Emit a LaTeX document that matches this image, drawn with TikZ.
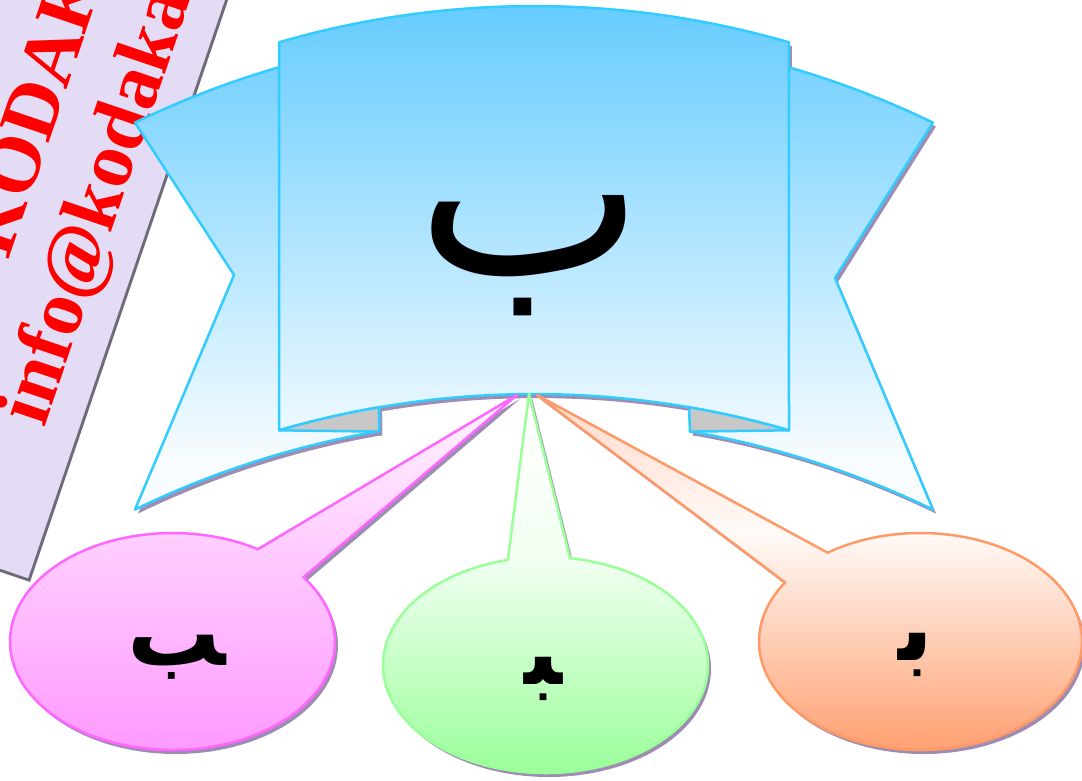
\documentclass[tikz,border=0pt]{standalone}
\usepackage{fontspec}
\newfontfamily\arabicfont[Script=Arabic]{DejaVu Sans}
\newfontfamily\wmfont{Liberation Serif}
\definecolor{bline}{HTML}{33CCFF}
\definecolor{btop}{HTML}{66CCFF}
\definecolor{bbot}{HTML}{F8FCFF}
\definecolor{shadowc}{RGB}{158,140,178}
\definecolor{foldgrey}{HTML}{C8C8C8}
\definecolor{pinkline}{HTML}{FF66FF}
\definecolor{pinkA}{HTML}{FFD0FF}
\definecolor{pinkB}{HTML}{FF99FF}
\definecolor{pinkT}{HTML}{FFF6FF}
\definecolor{greenline}{HTML}{99FF99}
\definecolor{greenA}{HTML}{F2FFF2}
\definecolor{greenB}{HTML}{99FF99}
\definecolor{orangeline}{HTML}{FF9966}
\definecolor{orangeA}{HTML}{FFFAF8}
\definecolor{orangeB}{HTML}{FF9F70}
\definecolor{orangeT}{HTML}{FFD8C8}
\definecolor{wmfill}{HTML}{E3DCF4}
\definecolor{wmedge}{HTML}{6E6A7A}
\def\backpath{(135,122.6) arc[start angle=-115.85,end angle=-64.15,radius=915] -- (835,278) -- (933,509.6) arc[start angle=-64.15,end angle=-80.18,radius=915] -- (690,380) -- (379,380) -- (379,431.2) arc[start angle=-99.75,end angle=-115.85,radius=915] -- (234,275) -- cycle}
\def\frontpath{(279,42.3) arc[start angle=-106.18,end angle=-73.82,radius=915] -- (789,430.3) arc[start angle=-73.82,end angle=-106.18,radius=915] -- cycle}
\def\foldL{(279,430.3) arc[start angle=-106.18,end angle=-99.75,radius=915] -- (379,431.6) -- cycle}
\def\foldR{(789,430.3) arc[start angle=-73.82,end angle=-80.25,radius=915] -- (690,431.6) -- cycle}
\def\pinkpath{(172.5,641.5) ++(-36.3:162.5 and 108.5) arc[start angle=-36.3,end angle=301.7,x radius=162.5,y radius=108.5] -- (517,395) -- cycle}
\def\greenpath{(545.5,665) ++(-81.3:162.5 and 108) arc[start angle=-81.3,end angle=256.6,x radius=162.5,y radius=108] -- (529,394) -- cycle}
\def\orangepath{(920.5,641.5) ++(-125.1:161.5 and 108.5) arc[start angle=-125.1,end angle=213,x radius=161.5,y radius=108.5] -- (537,395) -- cycle}
\tikzset{
  bannerline/.style={draw=bline,line width=2.5pt,line join=round},
  shadowfill/.style={fill=shadowc,shift={(3,4)}},
  bannershade/.style={top color=btop,bottom color=bbot},
  letterbig/.style={inner sep=0pt,font=\arabicfont\fontsize{242}{242}\selectfont},
  lettersmall/.style={inner sep=0pt,font=\arabicfont\bfseries\fontsize{93}{93}\selectfont},
  wmtext/.style={transform shape,anchor=base west,inner sep=0pt,text=red,font=\wmfont\bfseries\fontsize{79}{79}\selectfont}
}
\begin{document}
\begin{tikzpicture}[x=1pt,y=-1pt]
\useasboundingbox (0,0) rectangle (1082,780);
\clip (0,0) rectangle (1082,780);
% watermark band
\begin{scope}[shift={(30,582)},rotate=71.2]
  \fill[wmedge] (0,0) rectangle (720,-262);
  \fill[wmfill] (3,-3) rectangle (720,-262);
  \node[wmtext] (wm2) at (150,-36) {info@kodakar};
  \node[wmtext] (wm1) at (297,-124) {KODAK};
\end{scope}
% shadows of banner
\fill[shadowfill] \backpath;
\fill[shadowfill] \frontpath;
\fill[shadowfill] \foldL;
\fill[shadowfill] \foldR;
% back ribbon
\begin{scope}
  \clip \backpath;
  \fill[bbot] (120,455) rectangle (950,515);
  \shade[bannershade] (120,6) rectangle (950,462);
\end{scope}
\draw[bannerline] \backpath;
% front panel
\begin{scope}
  \clip \frontpath;
  \fill[bbot] (120,455) rectangle (950,515);
  \shade[bannershade] (120,6) rectangle (950,462);
\end{scope}
\draw[bannerline] \frontpath;
% folds
\fill[foldgrey] \foldL;
\fill[foldgrey] \foldR;
\draw[bannerline] \foldL;
\draw[bannerline] \foldR;
\node[letterbig] (big) at (530,256) {ب};
% callouts shadows
\fill[shadowfill] \pinkpath;
\fill[shadowfill] \greenpath;
\fill[shadowfill] \orangepath;
% pink
\begin{scope}
  \clip \pinkpath;
  \shade[top color=pinkT,bottom color=pinkA] (0,390) rectangle (545,534);
  \shade[top color=pinkA,bottom color=pinkB] (0,533) rectangle (545,752);
\end{scope}
\draw[draw=pinkline,line width=2.5pt,line join=round] \pinkpath;
% green
\begin{scope}
  \clip \greenpath;
  \shade[top color=white,bottom color=greenA] (370,390) rectangle (720,558);
  \shade[top color=greenA,bottom color=greenB] (370,557) rectangle (720,775);
\end{scope}
\draw[draw=greenline,line width=2.5pt,line join=round] \greenpath;
% orange
\begin{scope}
  \clip \orangepath;
  \shade[top color=orangeT,bottom color=orangeA] (510,390) rectangle (1082,534);
  \shade[top color=orangeA,bottom color=orangeB] (510,533) rectangle (1082,752);
\end{scope}
\draw[draw=orangeline,line width=2.5pt,line join=round] \orangepath;
% letters
\node[lettersmall] (fin) at (177,657) {^^^^fe90};
\node[lettersmall] (med) at (543,679) {^^^^fe92};
\node[lettersmall] (ini) at (916,655) {^^^^fe91};
\end{tikzpicture}
\end{document}
